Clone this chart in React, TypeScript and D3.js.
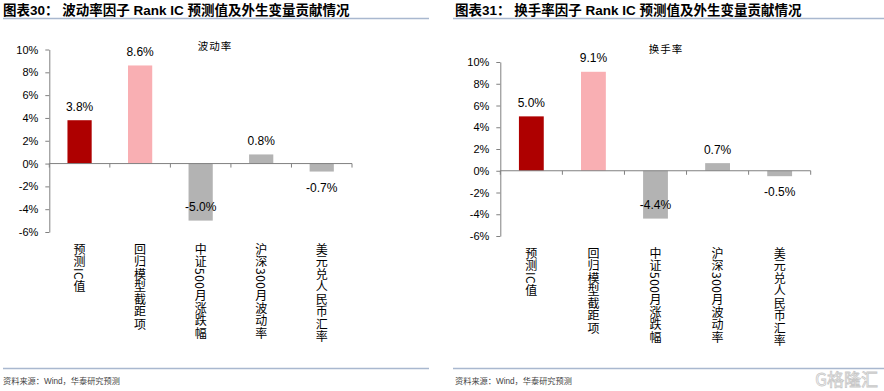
import React, { useEffect, useRef } from "react";
import * as d3 from "d3";

const categories = ["预测IC值", "回归模型截距项", "中证500月涨跌幅", "沪深300月波动率", "美元兑人民币汇率"];
const volatilityValues = [3.8, 8.6, -5.0, 0.8, -0.7];
const turnoverValues = [5.0, 9.1, -4.4, 0.7, -0.5];
const yTicks = [10, 8, 6, 4, 2, 0, -2, -4, -6];
const barColors = ["#AE0000", "#F9AFB3", "#B3B3B3", "#B3B3B3", "#B3B3B3"];

const FONT = "'Liberation Sans', Arial, 'Noto Sans CJK SC', sans-serif";
const CJK = "'Noto Sans CJK SC', 'Liberation Sans', sans-serif";

const panels = [
  {
    title: "图表30： 波动率因子 Rank IC 预测值及外生变量贡献情况",
    legend: "波动率",
    values: volatilityValues,
    frameX0: 3, frameX1: 429, // header / footer rules
    x0: 49.3, x1: 352, yTop: 49.5, yBottom: 232,
    legendX: 215, legendY: 46,
  },
  {
    title: "图表31： 换手率因子 Rank IC 预测值及外生变量贡献情况",
    legend: "换手率",
    values: turnoverValues,
    frameX0: 453, frameX1: 884,
    x0: 500.3, x1: 810.7, yTop: 62, yBottom: 236,
    legendX: 666, legendY: 49,
  },
];

function drawPanel(svg: any, p: any) {
  const g = svg.append("g");

  // header
  g.append("text")
    .attr("x", p.frameX0 + (p.frameX0 > 100 ? 2 : 0))
    .attr("y", 15)
    .attr("font-family", FONT)
    .attr("font-size", 13.5)
    .attr("font-weight", "bold")
    .attr("fill", "#000")
    .text(p.title);
  g.append("line")
    .attr("x1", p.frameX0).attr("x2", p.frameX1)
    .attr("y1", 18.5).attr("y2", 18.5)
    .attr("stroke", "#A9B8CF").attr("stroke-width", 1.5);

  // footer
  g.append("line")
    .attr("x1", p.frameX0).attr("x2", p.frameX1)
    .attr("y1", 368.5).attr("y2", 368.5)
    .attr("stroke", "#A9B8CF").attr("stroke-width", 1.5);
  g.append("text")
    .attr("x", p.frameX0 + (p.frameX0 > 100 ? 2 : 0))
    .attr("y", 384)
    .attr("font-family", FONT)
    .attr("font-size", 8.2)
    .attr("fill", "#444")
    .text("资料来源：Wind，华泰研究预测");

  const x = d3.scaleBand()
    .domain(categories)
    .range([p.x0, p.x1])
    .paddingInner(0.6)
    .paddingOuter(0.3);
  const y = d3.scaleLinear().domain([-6, 10]).range([p.yBottom, p.yTop]);
  const step = x.step();

  // y axis
  const yAxis = g.append("g")
    .attr("transform", `translate(${p.x0},0)`)
    .call(d3.axisLeft(y).tickValues(yTicks).tickSize(4).tickSizeOuter(0).tickPadding(7).tickFormat((d: any) => `${d}%`));
  yAxis.select(".domain").attr("stroke", "#808080");
  yAxis.selectAll(".tick line").attr("stroke", "#808080");
  yAxis.selectAll(".tick text")
    .attr("font-family", FONT)
    .attr("font-size", 11)
    .attr("fill", "#000");

  // bars
  g.selectAll("rect.bar")
    .data(p.values)
    .join("rect")
    .attr("class", "bar")
    .attr("x", (_: any, i: number) => x(categories[i]))
    .attr("width", x.bandwidth())
    .attr("y", (v: number) => Math.min(y(v), y(0)))
    .attr("height", (v: number) => Math.abs(y(v) - y(0)))
    .attr("fill", (_: any, i: number) => barColors[i]);

  // x axis (zero line with ticks between categories)
  g.append("line")
    .attr("x1", p.x0).attr("x2", p.x1)
    .attr("y1", y(0)).attr("y2", y(0))
    .attr("stroke", "#808080");
  g.selectAll("line.xtick")
    .data(d3.range(categories.length + 1))
    .join("line")
    .attr("class", "xtick")
    .attr("x1", (i: number) => p.x0 + i * step)
    .attr("x2", (i: number) => p.x0 + i * step)
    .attr("y1", y(0)).attr("y2", y(0) + 4)
    .attr("stroke", "#808080");

  // value labels
  g.selectAll("text.val")
    .data(p.values)
    .join("text")
    .attr("class", "val")
    .attr("x", (_: any, i: number) => (x(categories[i]) as number) + x.bandwidth() / 2)
    .attr("y", (v: number) => {
      if (v >= 0) return y(v) - 13.5;
      const below = y(v) + 16;
      return below + 8 > p.yBottom ? y(v) - 14 : below;
    })
    .attr("dy", "0.35em")
    .attr("text-anchor", "middle")
    .attr("font-family", FONT)
    .attr("font-size", 12)
    .attr("fill", "#000")
    .text((v: number) => `${v.toFixed(1)}%`);

  // category labels (vertical)
  g.selectAll("text.cat")
    .data(categories)
    .join("text")
    .attr("class", "cat")
    .attr("x", (c: string) => (x(c) as number) + x.bandwidth() / 2)
    .attr("y", p.yBottom + 11)
    .attr("writing-mode", "vertical-rl")
    .attr("font-family", CJK)
    .attr("font-size", 12)
    .attr("letter-spacing", 0.5)
    .attr("fill", "#000")
    .text((c: string) => c);

  // series name
  g.append("text")
    .attr("x", p.legendX)
    .attr("y", p.legendY)
    .attr("dy", "0.35em")
    .attr("text-anchor", "middle")
    .attr("font-family", CJK)
    .attr("font-size", 10.5)
    .attr("letter-spacing", 1)
    .attr("fill", "#000")
    .text(p.legend);
}

export default function App() {
  const ref = useRef<SVGSVGElement>(null);

  useEffect(() => {
    const svg = d3.select(ref.current);
    svg.selectAll("*").remove();
    svg.append("rect").attr("width", 884).attr("height", 391).attr("fill", "#fff");
    panels.forEach((p) => drawPanel(svg, p));

    // watermark
    svg.append("text")
      .attr("x", 878)
      .attr("y", 386)
      .attr("text-anchor", "end")
      .attr("font-family", CJK)
      .attr("font-size", 17)
      .attr("fill", "none")
      .attr("stroke", "#C8C8C8")
      .attr("stroke-width", 0.8)
      .text("G格隆汇");
  }, []);

  return (
    <svg
      ref={ref}
      width={884}
      height={391}
      style={{ position: "absolute", left: 0, top: 0, display: "block" }}
    />
  );
}
